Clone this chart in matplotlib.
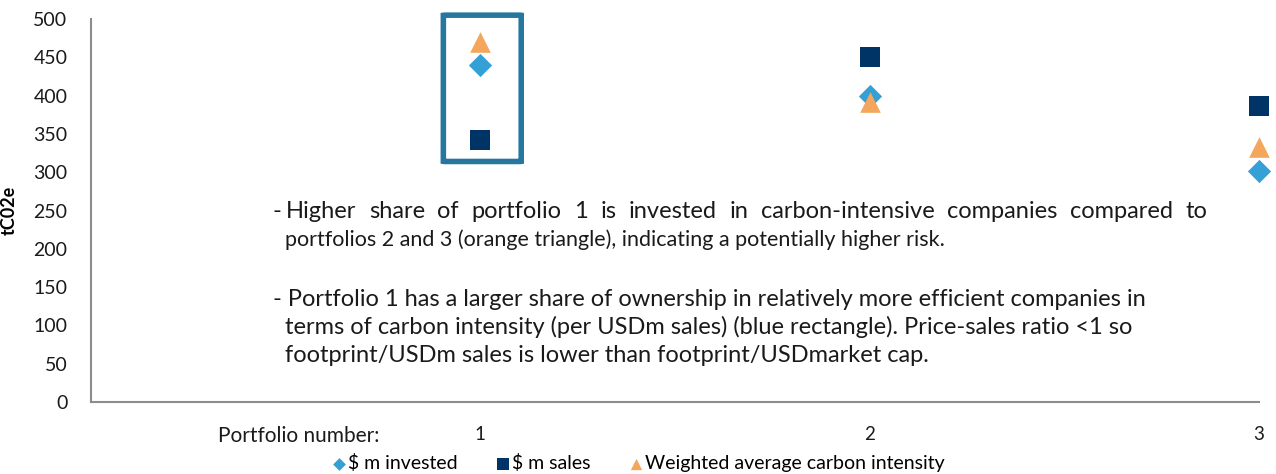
import matplotlib
matplotlib.use("Agg")
import matplotlib.pyplot as plt
from matplotlib.patches import FancyBboxPatch

plt.rcParams['font.family'] = ['Lato', 'DejaVu Sans']

portfolios = [1, 2, 3]
invested = [440, 400, 302]
sales = [342, 450, 386]
weighted = [470, 392, 333]
yticks = [0, 50, 100, 150, 200, 250, 300, 350, 400, 450, 500]

c_inv = '#35A0D6'
c_sales = '#003366'
c_w = '#F4A65C'
c_box = '#25779F'

W, H = 1276, 474
fig = plt.figure(figsize=(W / 100, H / 100), dpi=100)
ax = fig.add_axes([91 / W, (H - 402) / H, (1259 - 91) / W, (402 - 19) / H])
ax.set_xlim(0, 3)
ax.set_ylim(0, 500)

ax.scatter(portfolios, invested, marker='D', s=140, color=c_inv, clip_on=False, zorder=3,
           label='$ m invested', linewidths=0)
ax.scatter(portfolios, sales, marker='s', s=210, color=c_sales, clip_on=False, zorder=3,
           label='$ m sales', linewidths=0)
ax.scatter(portfolios, weighted, marker='^', s=220, color=c_w, clip_on=False, zorder=4,
           label='Weighted average carbon intensity', linewidths=0)

for s in ['top', 'right']:
    ax.spines[s].set_visible(False)
for s in ['left', 'bottom']:
    ax.spines[s].set_color('#8C8C8C')
    ax.spines[s].set_linewidth(1.5)

ax.set_yticks(yticks)
ax.set_xticks(portfolios)
ax.tick_params(axis='y', length=0, labelsize=14, pad=17, colors='#1a1a1a')
ax.tick_params(axis='x', length=0, labelsize=13.5, pad=17, colors='#1a1a1a')
ax.set_ylabel('tC02e', fontsize=13, fontweight='bold')
ax.yaxis.set_label_coords(-73 / (1259 - 91), 0.5)

# highlight box around portfolio 1
box = FancyBboxPatch((0.905, 314), 0.2, 191, boxstyle='round,pad=0,rounding_size=0.008',
                     fill=False, edgecolor=c_box, linewidth=4, clip_on=False, zorder=2,
                     mutation_aspect=25)
ax.add_patch(box)

fig.text(218 / W, 1 - 436 / H, 'Portfolio number:', fontsize=15, va='center', ha='left', color='#1a1a1a')

# annotation text
line1 = ['-', 'Higher', 'share', 'of', 'portfolio', '1', 'is', 'invested', 'in', 'carbon-intensive',
         'companies', 'compared', 'to']
fs = 17
x0, x1 = 273, 1207
y1 = 1 - 212 / H
renderer = fig.canvas.get_renderer()
texts = []
for w in line1:
    t = fig.text(0, y1, w, fontsize=fs, va='center', ha='left', color='#1a1a1a')
    texts.append(t)
widths = [t.get_window_extent(renderer).width for t in texts]
xpos = x0
texts[0].set_x(xpos / W)
xpos += widths[0] + 4
rest = widths[1:]
gap = (x1 - xpos - sum(rest)) / (len(rest) - 1)
for t, wd in zip(texts[1:], rest):
    t.set_x(xpos / W)
    xpos += wd + gap

other_lines = [
    (285, 240, 'portfolios 2 and 3 (orange triangle), indicating a potentially higher risk.', 15.5),
    (273, 299, '- Portfolio 1 has a larger share of ownership in relatively more efficient companies in', fs),
    (285, 327, 'terms of carbon intensity (per USDm sales) (blue rectangle). Price-sales ratio <1 so', fs),
    (285, 355, 'footprint/USDm sales is lower than footprint/USDmarket cap.', fs),
]
for x, y, s, f in other_lines:
    fig.text(x / W, 1 - y / H, s, fontsize=f, va='center', ha='left', color='#1a1a1a')

leg = fig.legend(loc='center', bbox_to_anchor=(638 / W, 1 - 463 / H), ncol=3, frameon=False,
                 fontsize=14, handletextpad=0.1, columnspacing=1.9, markerscale=0.55,
                 handlelength=0.8, borderaxespad=0)

fig.savefig('out.png', dpi=100)
